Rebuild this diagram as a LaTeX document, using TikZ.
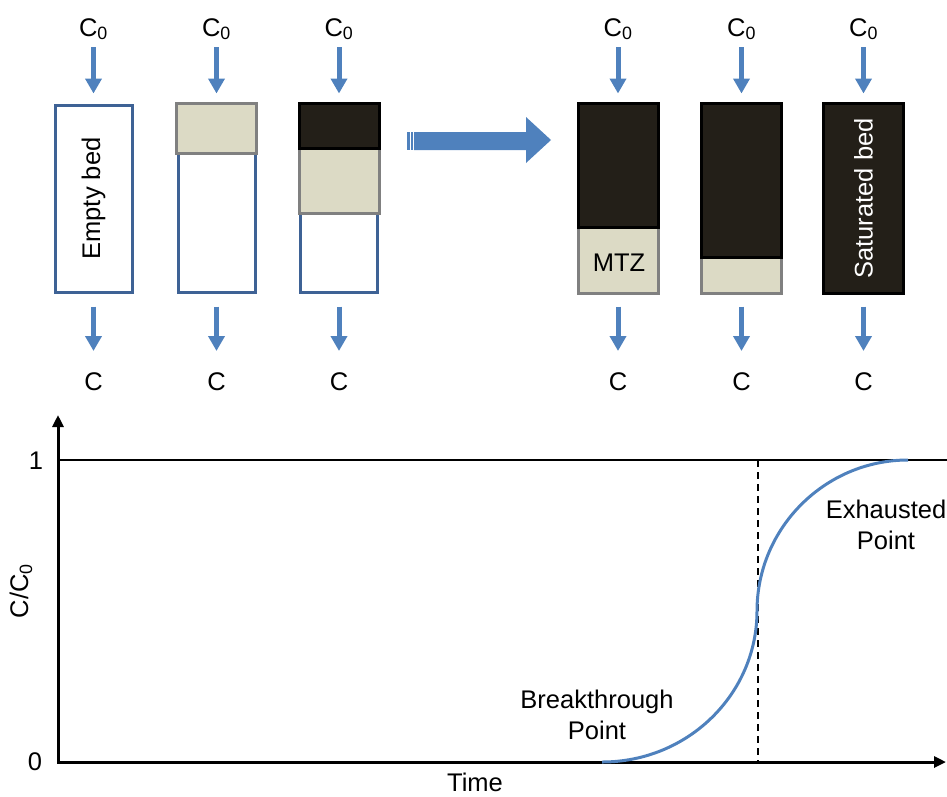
\documentclass[tikz,border=0pt]{standalone}
\usepackage{fontspec}
\setmainfont{Liberation Sans}
\usetikzlibrary{arrows.meta}

\definecolor{arrowblue}{HTML}{4F81BD}
\definecolor{bedblue}{HTML}{3E6295}
\definecolor{mtzbeige}{HTML}{DCDAC5}
\definecolor{mtzgray}{HTML}{808080}
\definecolor{satblack}{HTML}{231F18}

\tikzset{
    lbl/.style={font=\fontsize{25.5}{31}\selectfont, inner sep=0pt},
    flow/.style={draw=arrowblue, line width=5pt, -{Triangle[width=16pt,length=15pt]}},
    feed/.style={flow, shorten <=7pt, shorten >=10pt},
    drain/.style={flow, shorten <=13pt, shorten >=21pt},
    bed/.style={draw=bedblue, line width=3pt, fill=white, minimum width=77pt, minimum height=187pt, inner sep=0pt},
    mtzlayer/.style={draw=mtzgray, fill=mtzbeige, line width=3pt},
    satlayer/.style={draw=black, fill=satblack, line width=3pt},
    axis/.style={line width=3pt, {Triangle[width=11pt,length=12pt]}-{Triangle[width=11pt,length=12pt]}}
}

\begin{document}
\begin{tikzpicture}[x=1pt, y=-1pt]
    \useasboundingbox (0,0) rectangle (947,796);

    % Draw the six columns (outline only)
    \node[bed] (bed1) at (93.5,198.5) {};
    \node[bed] (bed2) at (216.5,198.5) {};
    \node[bed] (bed3) at (339,198.5) {};
    \node[bed] (bed4) at (618,198.5) {};
    \node[bed] (bed5) at (741.5,198.5) {};
    \node[bed] (bed6) at (863.5,198.5) {};

    % Fill the mass transfer zone and the saturated part
    \draw[mtzlayer] (bed2.north west) rectangle ([yshift=-50pt]bed2.north east);
    \draw[mtzlayer] ([yshift=-45pt]bed3.north west) rectangle ([yshift=-110pt]bed3.north east);
    \draw[satlayer] (bed3.north west) rectangle ([yshift=-45pt]bed3.north east);
    \draw[mtzlayer] ([yshift=-124pt]bed4.north west) rectangle (bed4.south east);
    \draw[satlayer] (bed4.north west) rectangle ([yshift=-124pt]bed4.north east);
    \draw[mtzlayer] ([yshift=-154pt]bed5.north west) rectangle (bed5.south east);
    \draw[satlayer] (bed5.north west) rectangle ([yshift=-154pt]bed5.north east);
    \draw[satlayer] (bed6.north west) rectangle (bed6.south east);

    % Text inside the columns
    \node[lbl, rotate=90] (emptylbl) at (bed1) {Empty bed};
    \node[lbl] (mtzlbl) at (619,263) {MTZ};
    \node[lbl, rotate=90, text=white] (satlbl) at (bed6) {Saturated bed};

    % Inlet labels
    \node[lbl, anchor=base] (in1) at (93.5,36) {C\textsubscript{0}};
    \node[lbl, anchor=base] (in2) at (216.5,36) {C\textsubscript{0}};
    \node[lbl, anchor=base] (in3) at (339,36) {C\textsubscript{0}};
    \node[lbl, anchor=base] (in4) at (618,36) {C\textsubscript{0}};
    \node[lbl, anchor=base] (in5) at (741.5,36) {C\textsubscript{0}};
    \node[lbl, anchor=base] (in6) at (863.5,36) {C\textsubscript{0}};

    % Outlet labels
    \node[lbl, anchor=base] (out1) at (93.5,390) {C};
    \node[lbl, anchor=base] (out2) at (216.5,390) {C};
    \node[lbl, anchor=base] (out3) at (339,390) {C};
    \node[lbl, anchor=base] (out4) at (618,390) {C};
    \node[lbl, anchor=base] (out5) at (741.5,390) {C};
    \node[lbl, anchor=base] (out6) at (863.5,390) {C};

    % Inlet arrows
    \draw[feed] (in1) -- (bed1);
    \draw[feed] (in2) -- (bed2);
    \draw[feed] (in3) -- (bed3);
    \draw[feed] (in4) -- (bed4);
    \draw[feed] (in5) -- (bed5);
    \draw[feed] (in6) -- (bed6);

    % Outlet arrows
    \draw[drain] (bed1) -- (out1);
    \draw[drain] (bed2) -- (out2);
    \draw[drain] (bed3) -- (out3);
    \draw[drain] (bed4) -- (out4);
    \draw[drain] (bed5) -- (out5);
    \draw[drain] (bed6) -- (out6);

    % Big arrow between the two groups (striped tail)
    \fill[arrowblue] (407,132) rectangle (409.5,150);
    \fill[arrowblue] (411,132) rectangle (413,150);
    \fill[arrowblue] (414,132) -- (526,132) -- (526,117) -- (551,140)
        -- (526,163) -- (526,150) -- (414,150) -- cycle;

    % Breakthrough curve axes
    \coordinate (origin) at (58,762);
    \coordinate (ytop) at (58,415);
    \coordinate (xend) at (946,762);
    \draw[axis] (ytop) -- (origin) -- (xend);
    \node[lbl] (ylbl) at (21,591) [rotate=90] {C/C\textsubscript{0}};
    \node[lbl] (tick1) at (36,461) {1};
    \node[lbl] (tick0) at (35,762) {0};
    \node[lbl] (xlbl) at (475,782.5) {Time};

    % Saturation level and midpoint
    \coordinate (fullL) at (58,460);
    \coordinate (fullR) at (947,460);
    \draw[line width=1.3pt] (fullL) -- (fullR);
    \coordinate (midtop) at (758,460);
    \coordinate (midbot) at (758,762);
    \draw[line width=1.8pt, dash pattern=on 7pt off 5pt] (midtop) -- (midbot);

    % S-shaped breakthrough curve
    \coordinate (bt) at (602,762);
    \coordinate (mid) at (757,611);
    \coordinate (ex) at (908,460);
    \draw[arrowblue, line width=3pt] (bt) .. controls +(86,0) and +(0,83) .. (mid)
        .. controls +(0,-83) and +(-83,0) .. (ex);
    \node[lbl, align=center] (btlbl) at (597,715) {Breakthrough\\Point};
    \node[lbl, align=center] (exlbl) at (886,525) {Exhausted\\Point};
\end{tikzpicture}
\end{document}
